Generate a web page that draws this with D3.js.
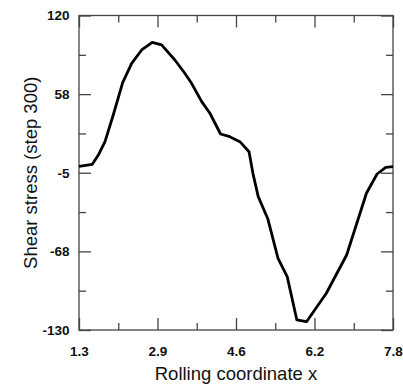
<!DOCTYPE html>
<html>
<head>
<meta charset="utf-8">
<script src="https://cdn.jsdelivr.net/npm/d3@7"></script>
<style>
  html, body { margin: 0; padding: 0; background: #fff; }
  svg { display: block; }
  .tick text { font-family: "Liberation Sans", Arial, sans-serif; font-weight: bold; font-size: 13.5px; fill: #111; }
  .title { font-family: "Liberation Sans", Arial, sans-serif; font-size: 18.5px; fill: #111; }
</style>
</head>
<body>
<svg id="chart" width="403" height="385"></svg>
<script>
// ---- data ----
const xValues = [1.3, 1.575, 1.70, 1.838, 2.009, 2.204, 2.39, 2.597, 2.816, 3.01, 3.285, 3.49, 3.63, 3.84, 4.01, 4.23, 4.42, 4.63, 4.82, 4.90, 5.01, 5.21, 5.42, 5.61, 5.81, 6.01, 6.42, 6.84, 7.25, 7.47, 7.65, 7.8];
const shearStress = [0, 1.7, 9.1, 19.7, 40.9, 66.6, 82, 92.6, 98.7, 96.6, 84.6, 74.1, 66.1, 51.5, 42.3, 25.8, 23.7, 19.7, 11.7, -5.4, -24, -41.8, -73, -87.6, -122, -123.4, -100.8, -70.4, -21.3, -6, -0.7, -0.2];
const xTickValues = [1.3, 2.925, 4.55, 6.175, 7.8];
const xTickLabels = ["1.3", "2.9", "4.6", "6.2", "7.8"];
const yTickValues = [-130, -67.5, -5, 57.5, 120];
const yTickLabels = ["-130", "-68", "-5", "58", "120"];
const xTitle = "Rolling coordinate x";
const yTitle = "Shear stress (step 300)";

// ---- layout ----
const pLeft = 79, pRight = 393, pTop = 15.5, pBottom = 330;
const svg = d3.select("#chart");
const x = d3.scaleLinear().domain([1.3, 7.8]).range([pLeft, pRight]);
const y = d3.scaleLinear().domain([-130, 120]).range([pBottom, pTop]);

const mid = arr => arr.slice(0, -1).map((v, i) => (v + arr[i + 1]) / 2);
const xMinor = mid(xTickValues);
const yMinor = mid(yTickValues);

const axisColor = "#444";
function styleAxis(g) {
  g.select(".domain").remove();
  g.selectAll(".tick line").attr("stroke", axisColor).attr("stroke-width", 1.3);
}

// major ticks with labels
svg.append("g").attr("transform", `translate(0,${pBottom})`)
  .call(d3.axisBottom(x).tickValues(xTickValues).tickSize(-12).tickPadding(16)
    .tickFormat((d, i) => xTickLabels[i]))
  .call(styleAxis);
svg.append("g").attr("transform", `translate(${pLeft},0)`)
  .call(d3.axisLeft(y).tickValues(yTickValues).tickSize(-12).tickPadding(9.5)
    .tickFormat((d, i) => yTickLabels[i]))
  .call(styleAxis);
// major ticks without labels (top/right)
svg.append("g").attr("transform", `translate(0,${pTop})`)
  .call(d3.axisTop(x).tickValues(xTickValues).tickSize(-12).tickFormat(""))
  .call(styleAxis);
svg.append("g").attr("transform", `translate(${pRight},0)`)
  .call(d3.axisRight(y).tickValues(yTickValues).tickSize(-12).tickFormat(""))
  .call(styleAxis);
// minor ticks
svg.append("g").attr("transform", `translate(0,${pBottom})`)
  .call(d3.axisBottom(x).tickValues(xMinor).tickSize(-7).tickFormat("")).call(styleAxis);
svg.append("g").attr("transform", `translate(0,${pTop})`)
  .call(d3.axisTop(x).tickValues(xMinor).tickSize(-7).tickFormat("")).call(styleAxis);
svg.append("g").attr("transform", `translate(${pLeft},0)`)
  .call(d3.axisLeft(y).tickValues(yMinor).tickSize(-7).tickFormat("")).call(styleAxis);
svg.append("g").attr("transform", `translate(${pRight},0)`)
  .call(d3.axisRight(y).tickValues(yMinor).tickSize(-7).tickFormat("")).call(styleAxis);

// frame
svg.append("rect")
  .attr("x", pLeft).attr("y", pTop)
  .attr("width", pRight - pLeft).attr("height", pBottom - pTop)
  .attr("fill", "none").attr("stroke", axisColor).attr("stroke-width", 1.3);

// curve
const pts = xValues.map((v, i) => [v, shearStress[i]]);
svg.append("path")
  .datum(pts)
  .attr("fill", "none")
  .attr("stroke", "#000")
  .attr("stroke-width", 2.8)
  .attr("stroke-linejoin", "round")
  .attr("d", d3.line().x(d => x(d[0])).y(d => y(d[1])));

// titles
svg.append("text").attr("class", "title")
  .attr("x", 236).attr("y", 380)
  .attr("text-anchor", "middle").text(xTitle);
svg.append("text").attr("class", "title")
  .attr("transform", `translate(37,${(pTop + pBottom) / 2}) rotate(-90)`)
  .attr("text-anchor", "middle").text(yTitle);
</script>
</body>
</html>
